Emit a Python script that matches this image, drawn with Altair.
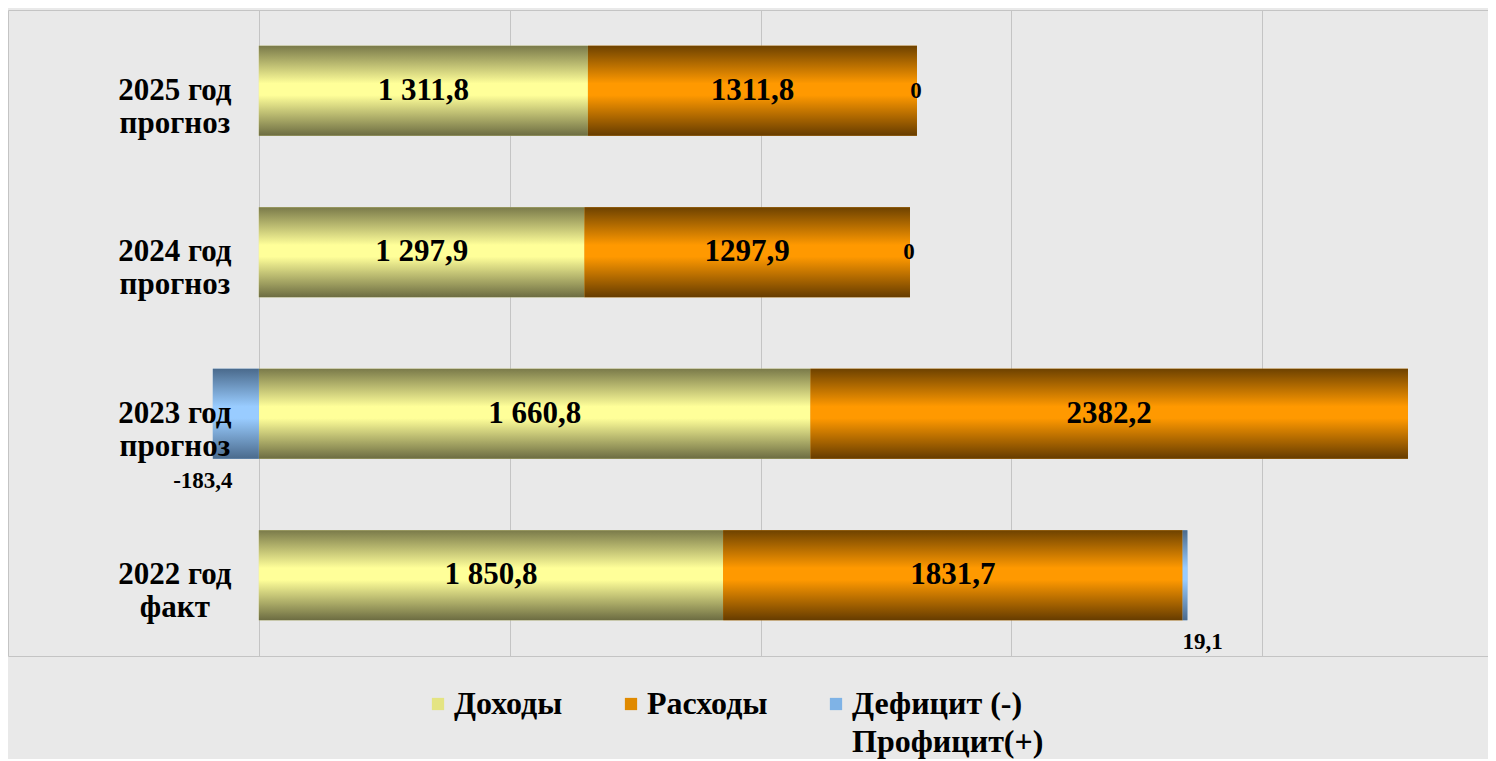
import altair as alt
import pandas as pd

# ---- data ----
categories = ["2022 год\nфакт", "2023 год\nпрогноз", "2024 год\nпрогноз", "2025 год\nпрогноз"]
series = ["Доходы", "Расходы", "Дефицит  (-)\nПрофицит(+)"]

income = [1850.8, 2198.8, 1297.9, 1311.8]          # bar lengths as drawn
income_labels = ["1 850,8", "1 660,8", "1 297,9", "1 311,8"]
expense = [1831.7, 2382.2, 1297.9, 1311.8]
expense_labels = ["1831,7", "2382,2", "1297,9", "1311,8"]
balance = [19.1, -183.4, 0.0, 0.0]
balance_labels = ["19,1", "-183,4", "0", "0"]

rows = []
for i, c in enumerate(categories):
    for j, (vals, labs) in enumerate([(income, income_labels), (expense, expense_labels), (balance, balance_labels)]):
        rows.append({"cat": c, "series": series[j], "order": j, "value": vals[i], "label": labs[i]})
df = pd.DataFrame(rows)

FONT = "Liberation Serif"
GRID = "#c4c4c4"


def grad(edge_top, mid, edge_bot):
    return alt.LinearGradient(
        gradient="linear", x1=0, x2=0, y1=0, y2=1,
        stops=[alt.GradientStop(color=edge_top, offset=0),
               alt.GradientStop(color=mid, offset=0.42),
               alt.GradientStop(color=mid, offset=0.55),
               alt.GradientStop(color=edge_bot, offset=1)])


grad_income = grad("#7a7a4a", "#ffff99", "#6c6c42")
grad_expense = grad("#6e4200", "#ff9900", "#663c00")
grad_balance = grad("#4a6a8c", "#99ccff", "#4a6a8c")

xscale = alt.Scale(domain=[-1000, 4900], nice=False, zero=False)
yscale = alt.Scale(paddingInner=0.443, paddingOuter=0.2215)
ysort = categories[::-1]

base = (alt.Chart(df)
        .transform_stack(stack="value", groupby=["cat"], as_=["x0", "x1"],
                         sort=[alt.SortField("order", order="ascending")])
        .transform_calculate(mid="(datum.x0 + datum.x1) / 2",
                             xend="datum.value < 0 ? min(datum.x0, datum.x1) : max(datum.x0, datum.x1)"))

Y = alt.Y("cat:N", sort=ysort, scale=yscale, axis=None)

legend_label_expr = ("indexof(datum.label, '\\n') >= 0 ? "
                     "split(datum.label, '\\n') : [datum.label, ' ']")

solid = base.mark_bar().encode(
    x=alt.X("x0:Q", scale=xscale,
            axis=alt.Axis(values=[-1000, 0, 1000, 2000, 3000, 4000], grid=True, gridColor=GRID,
                          gridWidth=1, labels=False, ticks=False, domainColor=GRID, title=None)),
    x2="x1:Q",
    y=Y,
    color=alt.Color("series:N", scale=alt.Scale(domain=series, range=["#e4e482", "#e08a00", "#7fb3e6"]),
                    legend=alt.Legend(orient="none", legendX=414, legendY=678, direction="horizontal",
                                      title=None, symbolType="square", symbolSize=150, symbolStrokeWidth=0,
                                      labelFont=FONT, labelFontSize=32, labelFontWeight="bold",
                                      labelColor="black", labelOffset=0, columnPadding=52,
                                      labelLimit=400, labelBaseline="middle",
                                      labelExpr=legend_label_expr)),
)


def gbar(name, fill, top_axis=False):
    ax = (alt.Axis(orient="top", labels=False, ticks=False, grid=False, domainColor=GRID, title=None)
          if top_axis else None)
    return base.transform_filter(alt.datum.series == name).mark_bar(color=fill).encode(
        x=alt.X("x0:Q", scale=xscale, axis=ax), x2="x1:Q", y=Y)


bars_income = gbar(series[0], grad_income, top_axis=True)
bars_expense = gbar(series[1], grad_expense)
bars_balance = gbar(series[2], grad_balance)

big = dict(font=FONT, fontSize=31, fontWeight="bold", color="black")
small = dict(font=FONT, fontSize=23, fontWeight="bold", color="black")

lab_income = base.transform_filter(alt.datum.series == series[0]).mark_text(**big).encode(
    x=alt.X("mid:Q", scale=xscale, axis=None), y=Y, text="label:N")
lab_expense = base.transform_filter(alt.datum.series == series[1]).mark_text(**big).encode(
    x=alt.X("mid:Q", scale=xscale, axis=None), y=Y, text="label:N")
lab_zero = base.transform_filter((alt.datum.series == series[2]) & (alt.datum.value == 0)).mark_text(
    align="center", dx=-1, **small).encode(
    x=alt.X("xend:Q", scale=xscale, axis=None), y=Y, text="label:N")
lab_pos = base.transform_filter((alt.datum.series == series[2]) & (alt.datum.value > 0)).mark_text(
    align="left", dx=-5, dy=67, **small).encode(
    x=alt.X("xend:Q", scale=xscale, axis=None), y=Y, text="label:N")
lab_neg = base.transform_filter((alt.datum.series == series[2]) & (alt.datum.value < 0)).mark_text(
    align="center", dx=-10, dy=67, **small).encode(
    x=alt.X("xend:Q", scale=xscale, axis=None), y=Y, text="label:N")

cat_labels = (alt.Chart(pd.DataFrame({"cat": categories}))
              .transform_calculate(zero="0")
              .mark_text(align="center", baseline="middle", dx=-84, lineBreak="\n", lineHeight=33, **big)
              .encode(x=alt.X("zero:Q", scale=xscale, axis=None), y=Y, text="cat:N"))

chart = (alt.layer(solid, bars_income, bars_expense, bars_balance,
                   lab_income, lab_expense, lab_zero, lab_pos, lab_neg, cat_labels)
         .resolve_axis(x="independent")
         .properties(width=1480, height=646, background="#e9e9e9",
                     padding={"left": 0, "top": 2, "right": 0, "bottom": 103},
                     autosize=alt.AutoSizeParams(type="none")))
chart.config = alt.Config(view=alt.ViewConfig(stroke=None),
                          style={"guide-label": {"lineHeight": 38}})

chart.save("out.html", embed_options={"renderer": "svg", "actions": False})
